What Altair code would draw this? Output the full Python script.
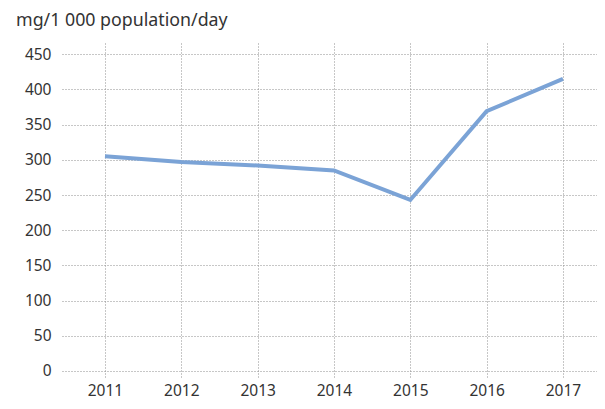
import altair as alt
import pandas as pd

years = ["2011", "2012", "2013", "2014", "2015", "2016", "2017"]
values = [305, 297, 292, 285, 243, 369, 415]
y_ticks = [0, 50, 100, 150, 200, 250, 300, 350, 400, 450]

df = pd.DataFrame({"year": years, "value": values})

FONT = "Noto Sans"
GRID = "#8f8f8f"

chart = alt.Chart(df).mark_line(color="#7ba3d6", strokeWidth=4).encode(
    x=alt.X("year:O", scale=alt.Scale(type="point", padding=0.5045, align=0.558),
            axis=alt.Axis(title=None, labelAngle=0, grid=True, domain=False, ticks=False,
                          labelPadding=5, labelFontSize=15.5, labelColor="#333333",
                          labelFont=FONT, gridColor=GRID, gridDash=[1, 2], gridWidth=1)),
    y=alt.Y("value:Q", scale=alt.Scale(domain=[-10, 466], nice=False, zero=False),
            axis=alt.Axis(title=None, values=y_ticks, grid=True, domain=False, ticks=False,
                          labelPadding=11, labelFontSize=15.5, labelColor="#333333",
                          labelFont=FONT, gridColor=GRID, gridDash=[1, 2], gridWidth=1)),
).properties(
    width=535, height=335,
    autosize=alt.AutoSizeParams(type="none"),
    padding={"left": 54, "top": 35, "right": 0, "bottom": 23},
    title=alt.TitleParams("mg/1 000 population/day", anchor="start", frame="group", dx=-46,
                          offset=13, fontSize=17.8, font=FONT, fontWeight="normal",
                          color="#333333"),
).configure_view(stroke=None)

chart.save("out.html", embed_options={"renderer": "svg", "actions": False})
